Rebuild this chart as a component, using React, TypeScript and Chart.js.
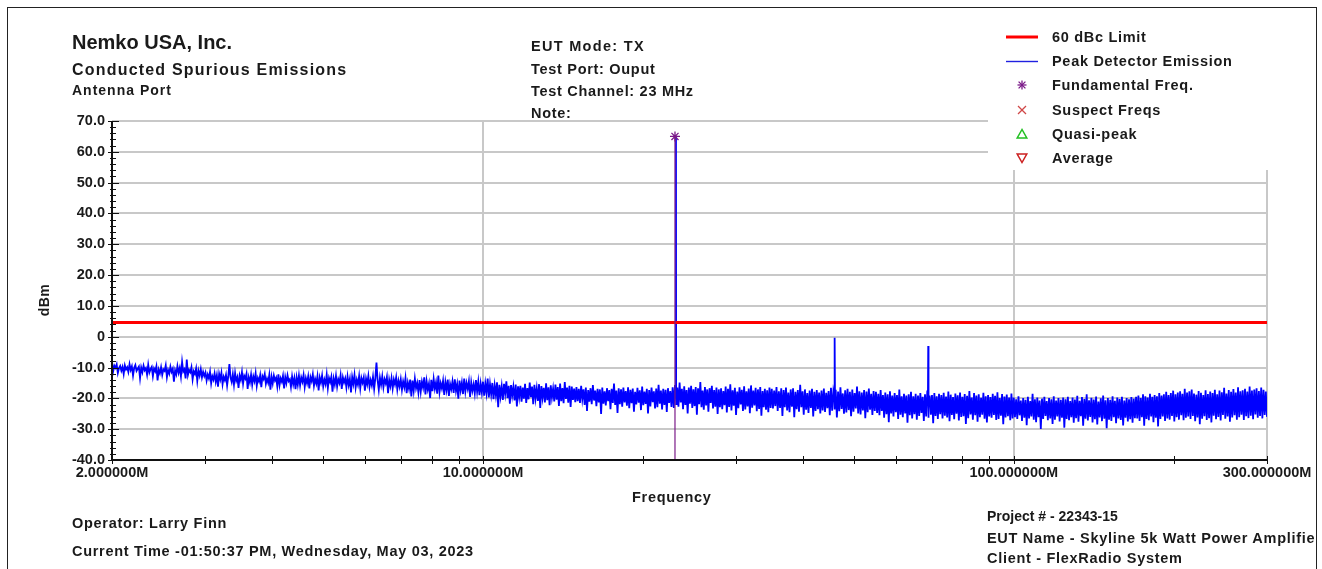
import React, { useEffect, useRef } from 'react';
import { Chart, registerables } from 'chart.js';

Chart.register(...registerables);

// ---------- data (frequencies in MHz, levels in dBm) ----------
const segmentEdgesMHz = [2, 3, 4.5, 7, 10, 15, 23, 35, 55, 100, 170, 300];

const noiseSeg1 = [-8.6,-11.2,-9.4,-10.1,-9,-11.8,-10.2,-9.5,-11,-9.8,-12.1,-9.3,-10.6,-9.9,-11.4,-8.9,-10.8,-9.6,-12.6,-10.1,-9.2,-11.1,-10.4,-9.7,-13.4,-10,-11.5,-9.4,-10.9,-10.2,-12.3,-9.1,-11.6,-10.5,-9.8,-12.8,-10.3,-11.2,-9.6,-14.2,-10.7,-11.9,-9.9,-12.4,-10.6,-11.1,-9.3,-13.1,-10.8,-12,-9.7,-11.4,-10.4,-14.6,-10.9,-12.2,-9.5,-11.7,-10.1,-12.9,-8.2,-11.3,-10.6,-13.5,-7.4,-12.4,-10.8,-11.5,-9.9,-13.8,-11.2,-12.1,-10.3,-14.3,-11,-12.6,-10.5,-13.2,-11.4,-12.8];
const noiseSeg2 = [-11.6,-14.2,-12.3,-13.5,-11.4,-15.1,-12.8,-13.9,-11.9,-14.6,-12.5,-16.2,-12.1,-13.8,-11.7,-15.4,-13,-14.1,-12.4,-15.8,-12.9,-8.9,-13.3,-14.7,-12.2,-15.5,-11.8,-14.3,-13.1,-16.6,-12.6,-14,-11.5,-15.2,-12.7,-13.6,-12,-16.9,-13.2,-14.8,-12.3,-15.6,-12.9,-14.4,-11.9,-15.9,-13.4,-14.5,-12.5,-16.4,-12.8,-13.7,-12.1,-15.3,-13.6,-14.9,-12.4,-17.2,-13,-15.1,-12.6,-14.2,-13.3,-16.1,-12.2,-15.7,-13.5,-14.6,-12.7,-16.8,-13.1,-15,-12.5,-14.4,-13.8,-16.3,-12.9,-15.4,-13.4,-17,-13.2,-15.6];
const noiseSeg3 = [-12.6,-15.8,-13.2,-14.6,-12.4,-16.3,-13.5,-15.1,-12.9,-16.8,-13.1,-14.4,-12.2,-15.9,-13.7,-15.2,-12.8,-17.4,-13.3,-14.9,-12.6,-16.1,-13.9,-15.4,-12.3,-16.6,-13.4,-14.7,-13,-17.8,-13.6,-15.5,-12.7,-16.2,-13.8,-15,-12.5,-16.9,-13.2,-14.8,-13.5,-16.4,-12.9,-15.7,-13.7,-18.1,-13.1,-15.3,-12.4,-16.5,-14,-15.6,-12.8,-16.7,-13.4,-14.9,-13.2,-17.5,-13.6,-15.4,-12.7,-16.3,-14.1,-15.8,-13,-16.9,-13.5,-8.4,-14.2,-17.2,-13.3,-15.6,-12.9,-16.4,-13.8,-15.1,-13.1,-18.3,-14,-16,-13.4,-16.8,-13.9,-15.5,-13.2,-17.1,-14.3,-16.2];
const noiseSeg4 = [-13.8,-17.2,-14.5,-16.4,-13.4,-18.3,-14.9,-16.9,-13.9,-19.4,-14.2,-17.5,-13.6,-16.7,-15,-18.1,-14.1,-17.8,-14.6,-16.5,-13.2,-18.7,-14.4,-17.1,-15.2,-19.9,-14,-17.7,-13.7,-16.9,-14.8,-18.5,-12.6,-17.9,-15.1,-16.8,-14.3,-18.9,-14.7,-17.3,-13.9,-19.2,-15.3,-17,-14.5,-18.2,-13.8,-17.6,-15.4,-20.1,-14.2,-17.4,-14.9,-18.6,-13.6,-17.8,-15,-16.9,-14.4,-19.5,-14.8,-17.5,-15.5,-18.4,-14.1,-17.9,-14.6,-19,-15.2,-18.1];
const noiseSeg5 = [-14.6,-19.1,-15.2,-18.3,-13.6,-19.7,-15.4,-18.7,-15,-20.3,-15.8,-18.9,-14.8,-22.9,-15.6,-19.3,-16.1,-20.5,-15.3,-18.5,-14.5,-19.9,-15.9,-21.7,-15.7,-19.1,-16.3,-20.7,-15.5,-22.6,-16.1,-19.5,-15.9,-21.1,-16.5,-20.1,-15.3,-21.5,-16.7,-20.3,-14.9,-19.6,-16.2,-21.9,-15.6,-20,-16.8,-20.8,-15.4,-23.1,-16,-19.8,-16.6,-21.3,-15.1,-20.6,-16.4,-22.2,-15.8,-19.7,-16.9,-21,-15.5,-20.4,-16.3,-22.5,-15.2,-20.9,-16.7,-21.6,-14.7,-20.2,-16.5,-21.4,-15.9,-22.8,-16.2,-20.5,-16.8,-21.2];
const noiseSeg6 = [-16.3,-20.9,-16.9,-21.5,-15.9,-20.3,-17.1,-22.1,-16.5,-24.1,-17.3,-21.1,-16.7,-21.9,-15.7,-20.7,-17.5,-22.5,-16.9,-21.3,-17.1,-25.1,-16.5,-21.7,-17.7,-22.3,-16.7,-20.9,-17.3,-23.5,-16.9,-21.5,-15.2,-22.1,-17.5,-24.7,-16.7,-21.9,-17.1,-22.7,-16.5,-21.3,-17.6,-22.4,-16.4,-23.2,-17.2,-21.6,-16.8,-24.3,-17.9,-22,-16.6,-21.4,-17.4,-23.8,-16.2,-22.2,-17.8,-21.8,-16.9,-24.9,-17.3,-22.6,-16.5,-21.2,-17.7,-23.3,-16.8,-22.9,-15.6,-21.7,-17.5,-23.6,-16.9,-22.1,-17.2,-24.4,-16.7,-21.5,-17.6,-22.8,-16.4,-23.1];
const noiseSeg7 = [-15.7,-21.9,-16.5,-22.7,-14.9,-21.3,-16.9,-23.5,-16.1,-22.1,-17.3,-24.9,-16.5,-21.7,-15.9,-23.1,-17.1,-22.5,-16.3,-25.3,-16.7,-21.9,-14.7,-22.9,-17.5,-23.7,-16.3,-22.3,-17.1,-24.3,-16.7,-21.5,-15.9,-23.3,-17.3,-22.7,-16.5,-25.1,-17.1,-22.9,-16.7,-23.5,-17.6,-22.2,-16.2,-24.6,-16.9,-22.8,-15.4,-23.9,-17.4,-22.4,-16.6,-25.4,-17.8,-23.2,-16.4,-22,-17.2,-24.1,-16.1,-23.6,-17.7,-22.6,-16.8,-24.8,-15.8,-23,-17.5,-22.3,-16.6,-24.2,-17.1,-23.4,-16.3,-25.6,-17.6,-22.9,-16.9,-23.7,-17.4,-24.5,-16.5,-23.1];
const noiseSeg8 = [-16.9,-23.3,-17.5,-22.5,-16.3,-24.1,-17.7,-23.1,-16.7,-25.7,-17.3,-22.9,-16.5,-23.9,-18.1,-24.5,-17.1,-22.7,-16.7,-26.1,-17.9,-23.5,-17.3,-24.3,-15.6,-22.9,-17.7,-25.3,-17.1,-23.7,-18.3,-24.7,-17.5,-23.1,-16.9,-25.9,-17.9,-24.1,-17.3,-23.5,-18.1,-24.9,-17.5,-23.9,-16.8,-24.4,-18.2,-23.2,-17.6,-25.5,-16.6,-24,-18,-23.6,-17.2,-26.2,-17.8,-24.2,-16.4,-23.4,-18.4,-25,-17.4,-24.6,-16.9,-23.8,-17.9,-25.8,-17.1,-24.3,-18.3,-23.3,-16.2,-24.9,-17.7,-25.2,-18.1,-23.9,-17.3,-26.4,-17.8,-24.5,-16.8,-23.7,-18.5,-25.4,-17.6,-24.1];
const noiseSeg9 = [-17.9,-24.7,-18.5,-25.5,-17.3,-24.1,-18.9,-26.3,-18.1,-25.1,-18.7,-27.7,-17.7,-24.9,-19.1,-25.9,-18.3,-24.5,-18.9,-26.7,-17.1,-25.3,-19.3,-26.1,-18.5,-24.9,-19.1,-27.9,-18.7,-25.5,-17.9,-26.5,-19.3,-25.1,-18.5,-26.9,-19.1,-25.7,-18.3,-24.7,-19.5,-27.3,-18.7,-25.9,-17.5,-26.3,-19.1,-25.3,-18.9,-28.1,-18.3,-25.7,-19.3,-26.7,-18.5,-25.1,-18.9,-26.5,-18.2,-25.6,-19.4,-26.2,-17.8,-27.4,-18.8,-25.4,-19.6,-26.8,-18.4,-25,-19,-27.2,-18.1,-26,-19.5,-25.8,-18.6,-28.3,-19.2,-26.4,-17.6,-25.2,-19.7,-26.9,-18.3,-25.5,-19.1,-27.6,-18.7,-26.1,-19.8,-25.3,-18.2,-26.6,-19.3,-27.8,-18.9,-25.9,-19.6,-26.3,-18.5,-25.4,-19.2,-27,-18,-26.7,-19.9,-25.6,-18.6,-28.4,-19.4,-26.2,-18.8,-25.8,-19.7,-27.1,-18.4,-26.5];
const noiseSeg10 = [-19.7,-26.1,-20.3,-26.7,-19.3,-25.5,-20.7,-27.3,-19.9,-26.3,-20.5,-28.7,-19.5,-26.5,-20.9,-25.9,-18.5,-26.9,-20.3,-27.7,-19.7,-26.1,-20.7,-29.9,-20.1,-26.7,-19.5,-25.7,-20.9,-27.1,-19.9,-26.5,-20.3,-28.3,-19.3,-26.9,-20.7,-25.9,-19.9,-27.5,-20.5,-26.3,-19.7,-29.5,-20.3,-26.7,-19.5,-27.1,-20.9,-26.1,-19.7,-27.9,-20.4,-26.4,-19.2,-27.6,-20.8,-25.8,-19.6,-28.9,-20.2,-26.6,-18.7,-27.2,-20.6,-26,-19.8,-27.8,-20.4,-26.8,-19.4,-28.5,-21,-26.2,-20,-27.4,-19.1,-26.6,-20.6,-29.7,-19.9,-26.9,-20.5,-27.3,-19.3,-26.1,-20.8,-28.1,-19.7,-26.5,-20.2,-27,-19.5,-28.8,-20.7,-26.3,-19.9,-27.5,-20.3,-26.8,-19.6,-27.9,-20.1,-26.4];
const noiseSeg11 = [-19.5,-26.5,-19.1,-27.3,-19.9,-26.1,-18.7,-28.9,-19.3,-26.7,-19.7,-27.1,-18.5,-25.9,-19.5,-27.7,-18.9,-26.3,-19.3,-29.1,-18.3,-26.7,-19.1,-25.9,-18.7,-27.3,-17.9,-26.5,-18.9,-26.9,-18.3,-25.7,-17.5,-27.5,-18.7,-26.1,-18.1,-26.9,-17.7,-25.5,-18.5,-27.1,-16.9,-26.3,-18.1,-25.9,-17.7,-26.7,-17.1,-25.7,-18.4,-27.4,-18.8,-26.2,-17.6,-28.4,-18.2,-26.6,-18.9,-25.8,-17.4,-27,-18.6,-26.4,-17.8,-27.8,-18.3,-25.6,-17.2,-26.8,-18.7,-26,-17.5,-27.2,-18,-25.4,-16.6,-26.6,-18.4,-25.9,-17.3,-27.6,-17.9,-26.2,-17,-25.5,-18.1,-26.9,-16.4,-26.1,-17.7,-25.3,-17.4,-27,-16.9,-25.8,-17.8,-26.4,-16.2,-25.6,-17.5,-26.8,-17.1,-25.2,-16.7,-26.3,-17.6,-25.7,-16.5,-26.5,-17.2,-25.4,-17.8,-26];

const noiseSegments = [noiseSeg1, noiseSeg2, noiseSeg3, noiseSeg4, noiseSeg5, noiseSeg6, noiseSeg7, noiseSeg8, noiseSeg9, noiseSeg10, noiseSeg11];

// discrete emissions (fundamental and harmonics) in the peak trace
const spikeFreqsMHz = [23.05, 23.1, 23.15, 45.95, 46.0, 46.05, 68.9, 69.0, 69.1];
const spikeLevels = [-18, 65, -19, -20.5, -0.3, -21, -21.5, -3, -22];

const limitLevel = 4.6;
const fundFreqMHz = 23.0;
const fundLevel = 65;

const yMin = -40;
const yMax = 70;
const yStep = 10;
const yMinorStep = 2;

const xMinMHz = 2;
const xMaxMHz = 300;
const xTickValues = [2, 3, 4, 5, 6, 7, 8, 9, 10, 20, 30, 40, 50, 60, 70, 80, 90, 100, 200, 300];
const xLabeledTicks = [2, 10, 100, 300];
const xGridTicks = [10, 100, 300];

const legendLabels = ['60 dBc Limit', 'Peak Detector Emission', 'Fundamental Freq.', 'Suspect Freqs', 'Quasi-peak', 'Average'];

// ---------- helpers ----------
function buildNoise() {
  const pts: { x: number; y: number }[] = [];
  noiseSegments.forEach((vals, s) => {
    const f0 = segmentEdgesMHz[s];
    const f1 = segmentEdgesMHz[s + 1];
    const last = s === noiseSegments.length - 1;
    const n = vals.length;
    vals.forEach((v, j) => {
      const t = last ? j / (n - 1) : j / n;
      pts.push({ x: f0 * Math.pow(f1 / f0, t), y: v });
    });
  });
  spikeFreqsMHz.forEach((f, i) => pts.push({ x: f, y: spikeLevels[i] }));
  pts.sort((a, b) => a.x - b.x);
  return pts;
}

const FONT = '"Liberation Sans", Arial, Helvetica, sans-serif';
const TEXT = '#1a1a1a';

const axisPlugin = {
  id: 'spectrumAxes',
  afterDraw(chart: any) {
    const { ctx, chartArea: a, scales } = chart;
    const x = scales.x;
    const y = scales.y;
    ctx.save();
    ctx.strokeStyle = '#111';
    ctx.lineWidth = 2;
    ctx.beginPath();
    ctx.moveTo(a.left, a.top);
    ctx.lineTo(a.left, a.bottom + 1);
    ctx.moveTo(a.left - 1, a.bottom);
    ctx.lineTo(a.right, a.bottom);
    ctx.stroke();
    ctx.lineWidth = 1;
    ctx.beginPath();
    for (let v = yMin; v <= yMax; v += yMinorStep) {
      const py = Math.round(y.getPixelForValue(v)) + 0.5;
      const major = v % yStep === 0;
      ctx.moveTo(a.left - (major ? 4 : 2), py);
      ctx.lineTo(a.left + (major ? 7 : 4), py);
    }
    xTickValues.forEach((v) => {
      const px = Math.round(x.getPixelForValue(v)) + 0.5;
      ctx.moveTo(px, a.bottom - 4);
      ctx.lineTo(px, a.bottom + 4);
    });
    ctx.stroke();
    ctx.restore();
  },
};

function T(props: { x: number; cy: number; size?: number; ls?: number; children: React.ReactNode; style?: React.CSSProperties }) {
  const size = props.size ?? 14.5;
  return (
    <div
      style={{
        position: 'absolute',
        left: props.x,
        top: props.cy - 0.49 * size,
        fontFamily: FONT,
        fontWeight: 'bold',
        fontSize: size,
        lineHeight: 1,
        letterSpacing: props.ls ?? 0.7,
        color: TEXT,
        whiteSpace: 'nowrap',
        ...props.style,
      }}
    >
      {props.children}
    </div>
  );
}

export default function App() {
  const canvasRef = useRef<HTMLCanvasElement | null>(null);

  useEffect(() => {
    const canvas = canvasRef.current;
    if (!canvas) return;
    const noise = buildNoise();
    const tickFont = { family: FONT, size: 14.5, weight: 'bold' as const };
    const chart = new Chart(canvas, {
      type: 'line',
      data: {
        datasets: [
          {
            label: legendLabels[1],
            data: noise,
            borderColor: '#0000ff',
            borderWidth: 1.8,
            pointRadius: 0,
            tension: 0,
            order: 3,
          },
          {
            label: legendLabels[0],
            data: [
              { x: xMinMHz, y: limitLevel },
              { x: xMaxMHz, y: limitLevel },
            ],
            borderColor: '#ff0000',
            borderWidth: 3,
            pointRadius: 0,
            order: 2,
          },
          {
            label: legendLabels[2],
            data: [
              { x: fundFreqMHz, y: yMin },
              { x: fundFreqMHz, y: fundLevel },
            ],
            borderColor: '#7a1a88',
            borderWidth: 1.2,
            pointRadius: [0, 5],
            pointStyle: 'star',
            pointBorderColor: '#7a1a88',
            pointBorderWidth: 1.3,
            order: 1,
          },
        ],
      },
      options: {
        animation: false,
        responsive: false,
        devicePixelRatio: 1,
        layout: { padding: { left: 0, top: 121, right: 55, bottom: 79 } },
        plugins: { legend: { display: false }, tooltip: { enabled: false } },
        scales: {
          x: {
            type: 'logarithmic',
            min: xMinMHz,
            max: xMaxMHz,
            afterBuildTicks: (s: any) => {
              s.ticks = xTickValues.map((v) => ({ value: v }));
            },
            afterFit: (s: any) => {
              s.height = 30;
            },
            ticks: {
              autoSkip: false,
              maxRotation: 0,
              minRotation: 0,
              padding: 4,
              font: tickFont,
              color: TEXT,
              callback: (v: any) => (xLabeledTicks.includes(Number(v)) ? Number(v).toFixed(6) + 'M' : ''),
            },
            grid: {
              color: (ctx: any) => (ctx.tick && xGridTicks.includes(ctx.tick.value) ? '#c8c8c8' : 'rgba(0,0,0,0)'),
              lineWidth: 2,
              drawTicks: false,
            },
            border: { display: false },
          },
          y: {
            min: yMin,
            max: yMax,
            afterFit: (s: any) => {
              s.width = 112;
            },
            ticks: {
              stepSize: yStep,
              padding: 7,
              font: tickFont,
              color: TEXT,
              callback: (v: any) => (Number(v) === 0 ? '0' : Number(v).toFixed(1)),
            },
            grid: { color: '#c8c8c8', lineWidth: 2, drawTicks: false },
            border: { display: false },
          },
        },
      },
      plugins: [axisPlugin],
    } as any);
    return () => chart.destroy();
  }, []);

  const legendTop = 22;
  const rows = [37, 61, 85, 110, 134, 158].map((v) => v - legendTop);
  const sx = 34;

  return (
    <div style={{ position: 'fixed', left: 0, top: 0, width: 1322, height: 569, overflow: 'hidden', background: '#fff' }}>
      <canvas ref={canvasRef} width={1322} height={569} style={{ position: 'absolute', left: 0, top: 0, width: 1322, height: 569 }} />

      {/* outer frame */}
      <div style={{ position: 'absolute', left: 7, top: 7, width: 1310, height: 620, boxSizing: 'border-box', border: '1px solid #222', pointerEvents: 'none' }} />

      {/* header, left */}
      <T x={72} cy={42} size={20} ls={0}>Nemko USA, Inc.</T>
      <T x={72} cy={70} size={16} ls={1.2}>Conducted Spurious Emissions</T>
      <T x={72} cy={90} size={14} ls={1}>Antenna Port</T>

      {/* header, middle */}
      <T x={531} cy={46} ls={1.3}>EUT Mode: TX</T>
      <T x={531} cy={69}>Test Port: Ouput</T>
      <T x={531} cy={91}>Test Channel: 23 MHz</T>
      <T x={531} cy={113}>Note:</T>

      {/* legend */}
      <div style={{ position: 'absolute', left: 988, top: legendTop, width: 326, height: 148, background: '#fff' }}>
        <svg width={60} height={148} style={{ position: 'absolute', left: 0, top: 0 }}>
          <line x1={18} y1={rows[0]} x2={50} y2={rows[0]} stroke="#ff0000" strokeWidth={3} />
          <line x1={18} y1={rows[1] + 0.5} x2={50} y2={rows[1] + 0.5} stroke="#2020e0" strokeWidth={1.4} />
          <g stroke="#7a1a88" strokeWidth={1.3}>
            <line x1={sx} y1={rows[2] - 4.5} x2={sx} y2={rows[2] + 4.5} />
            <line x1={sx - 4.5} y1={rows[2]} x2={sx + 4.5} y2={rows[2]} />
            <line x1={sx - 3.4} y1={rows[2] - 3.4} x2={sx + 3.4} y2={rows[2] + 3.4} />
            <line x1={sx - 3.4} y1={rows[2] + 3.4} x2={sx + 3.4} y2={rows[2] - 3.4} />
          </g>
          <g stroke="#d04848" strokeWidth={1.3}>
            <line x1={sx - 4} y1={rows[3] - 4} x2={sx + 4} y2={rows[3] + 4} />
            <line x1={sx - 4} y1={rows[3] + 4} x2={sx + 4} y2={rows[3] - 4} />
          </g>
          <polygon points={`${sx},${rows[4] - 4.5} ${sx - 4.8},${rows[4] + 4} ${sx + 4.8},${rows[4] + 4}`} fill="none" stroke="#22c022" strokeWidth={1.5} />
          <polygon points={`${sx - 4.8},${rows[5] - 4} ${sx + 4.8},${rows[5] - 4} ${sx},${rows[5] + 4.5}`} fill="none" stroke="#cc2020" strokeWidth={1.5} />
        </svg>
        {legendLabels.map((l, i) => (
          <T key={l} x={64} cy={rows[i]}>{l}</T>
        ))}
      </div>

      {/* axis titles */}
      <div
        style={{
          position: 'absolute',
          left: 44,
          top: 300,
          transform: 'translate(-50%, -50%) rotate(-90deg)',
          fontFamily: FONT,
          fontWeight: 'bold',
          fontSize: 14,
          lineHeight: 1,
          letterSpacing: 0.5,
          color: TEXT,
          whiteSpace: 'nowrap',
        }}
      >
        dBm
      </div>
      <T x={632} cy={497}>Frequency</T>

      {/* footer */}
      <T x={72} cy={523}>Operator: Larry Finn</T>
      <T x={72} cy={551}>Current Time -01:50:37 PM, Wednesday, May 03, 2023</T>
      <T x={987} cy={516} size={14} ls={0}>Project # - 22343-15</T>
      <div style={{ position: 'absolute', left: 0, top: 0, width: 1315, height: 569, overflow: 'hidden', pointerEvents: 'none' }}>
        <T x={987} cy={538}>EUT Name - Skyline 5k Watt Power Amplifier</T>
      </div>
      <T x={987} cy={558}>Client - FlexRadio System</T>
    </div>
  );
}
